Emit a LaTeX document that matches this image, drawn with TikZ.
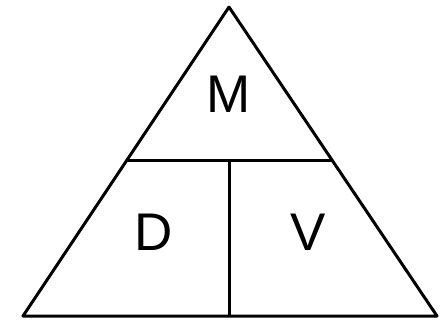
\documentclass[tikz,border=0pt]{standalone}
\usepackage{fontspec}
\setmainfont{Liberation Sans}
\begin{document}
\begin{tikzpicture}[x=1pt,y=-1pt,
  edge/.style={line width=3pt,black},
  letter/.style={font=\fontsize{53}{60}\selectfont,inner sep=0pt,anchor=center}]
\useasboundingbox (0,0) rectangle (448,322);
\coordinate (apex) at (229,7);
\coordinate (bl) at (23,316);
\coordinate (br) at (437,316);
\coordinate (hl) at (126,160.5);
\coordinate (hr) at (332,160.5);
\coordinate (vt) at (229,160.5);
\coordinate (vb) at (229,316);
\draw[edge,line join=round] (apex) -- (br) -- (bl) -- cycle;
\draw[edge] (hl) -- (hr);
\draw[edge] (vt) -- (vb);
\node[letter] (M) at (229,94) {M};
\node[letter] (D) at (154,232) {D};
\node[letter] (V) at (308,232) {V};
\end{tikzpicture}
\end{document}
